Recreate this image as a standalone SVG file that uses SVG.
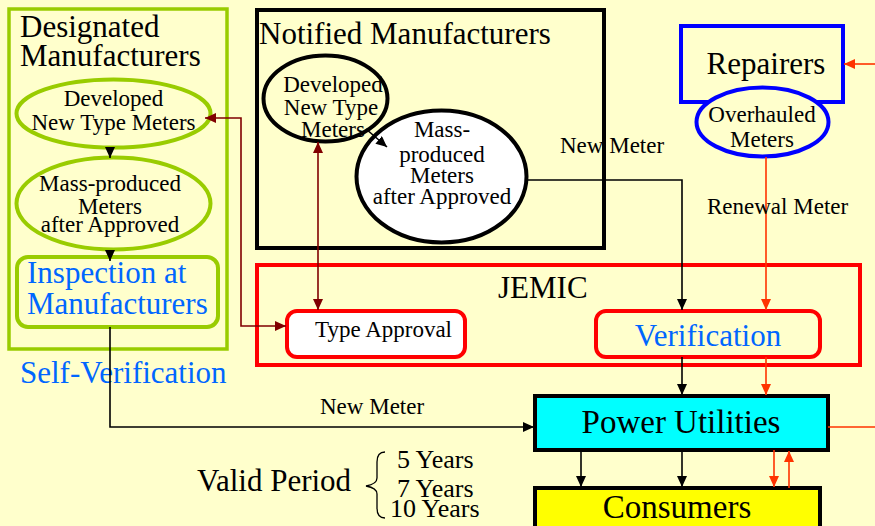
<svg xmlns="http://www.w3.org/2000/svg" width="875" height="526" viewBox="0 0 875 526" font-family="'Liberation Serif', 'Times New Roman', serif">
<style>
text{font-family:"Liberation Serif","Times New Roman",serif;fill:#000}
.t30{font-size:31px}
.t23{font-size:23px}
.t33{font-size:33px}
.t25{font-size:26px}
.blue{fill:#0066FF}
.k{fill:none;stroke:#000;stroke-width:1.6}
.o{fill:none;stroke:#FF3300;stroke-width:1.6}
.dr{fill:none;stroke:#800000;stroke-width:1.6}
</style>
<defs>
<marker id="ak" markerUnits="userSpaceOnUse" markerWidth="12" markerHeight="10" refX="11" refY="5" orient="auto-start-reverse"><path d="M0,0 L11,5 L0,10 z" fill="#000"/></marker>
<marker id="ao" markerUnits="userSpaceOnUse" markerWidth="12" markerHeight="10" refX="11" refY="5" orient="auto-start-reverse"><path d="M0,0 L11,5 L0,10 z" fill="#FF3300"/></marker>
<marker id="ad" markerUnits="userSpaceOnUse" markerWidth="12" markerHeight="10" refX="11" refY="5" orient="auto-start-reverse"><path d="M0,0 L11,5 L0,10 z" fill="#800000"/></marker>
</defs>
<rect x="0" y="0" width="875" height="526" fill="#FFFFCC"/>

<g id="designated">
<rect x="9" y="9" width="218" height="340" fill="none" stroke="#99CC00" stroke-width="3.5"/>
<text class="t30" x="20" y="37">Designated</text>
<text class="t30" x="20" y="66">Manufacturers</text>
</g>
<g id="dm-developed">
<ellipse cx="113.5" cy="113.5" rx="97" ry="34" fill="none" stroke="#99CC00" stroke-width="4"/>
<text class="t23" x="113.5" y="106" text-anchor="middle">Developed</text>
<text class="t23" x="113.5" y="130" text-anchor="middle">New Type Meters</text>
</g>
<g id="dm-mass">
<ellipse cx="113.5" cy="203.5" rx="97" ry="46" fill="none" stroke="#99CC00" stroke-width="4"/>
<text class="t23" x="110" y="191" text-anchor="middle">Mass-produced</text>
<text class="t23" x="110" y="214" text-anchor="middle">Meters</text>
<text class="t23" x="110" y="232" text-anchor="middle">after Approved</text>
</g>
<g id="inspection">
<rect x="17" y="257" width="201" height="70" rx="11" fill="none" stroke="#99CC00" stroke-width="4"/>
<text class="t30 blue" x="27" y="283">Inspection at</text>
<text class="t30 blue" x="27" y="314">Manufacturers</text>
</g>
<g id="self-verification">
<text class="t30 blue" x="20" y="383">Self-Verification</text>
</g>

<g id="notified">
<rect x="257" y="10" width="347" height="238" fill="none" stroke="#000" stroke-width="4"/>
<text class="t30" x="259" y="44">Notified Manufacturers</text>
</g>
<g id="nm-developed">
<ellipse cx="325.5" cy="98.5" rx="62" ry="43" fill="none" stroke="#000" stroke-width="4"/>
<text class="t23" x="333" y="92" text-anchor="middle">Developed</text>
<text class="t23" x="331" y="115" text-anchor="middle">New Type</text>
<text class="t23" x="333" y="137" text-anchor="middle">Meters</text>
</g>
<g id="nm-mass">
<ellipse cx="441.5" cy="176.5" rx="85" ry="66" fill="#FFFFFF" stroke="#000" stroke-width="4"/>
<text class="t23" x="442" y="137" text-anchor="middle">Mass-</text>
<text class="t23" x="442" y="162" text-anchor="middle">produced</text>
<text class="t23" x="442" y="183" text-anchor="middle">Meters</text>
<text class="t23" x="442" y="204" text-anchor="middle">after Approved</text>
</g>

<g id="repairers">
<rect x="681" y="26" width="162" height="76" fill="none" stroke="#0000FF" stroke-width="4"/>
<text class="t30" x="766" y="74" text-anchor="middle">Repairers</text>
</g>
<g id="overhauled">
<ellipse cx="762.5" cy="122" rx="66" ry="34.5" fill="#FFFFCC" stroke="#0000FF" stroke-width="4"/>
<text class="t23" x="762" y="122" text-anchor="middle">Overhauled</text>
<text class="t23" x="762" y="147" text-anchor="middle">Meters</text>
</g>

<g id="jemic">
<rect x="257" y="265" width="603" height="100" fill="none" stroke="#FF0000" stroke-width="4"/>
<text class="t30" x="498" y="298">JEMIC</text>
</g>
<g id="type-approval">
<rect x="287" y="311" width="178" height="46" rx="10" fill="#FFFFFF" stroke="#FF0000" stroke-width="4"/>
<text class="t23" x="315" y="337">Type Approval</text>
</g>
<g id="verification">
<rect x="596" y="311" width="224" height="46" rx="10" fill="none" stroke="#FF0000" stroke-width="4"/>
<text class="t30 blue" x="708" y="346" text-anchor="middle">Verification</text>
</g>

<g id="power-utilities">
<rect x="535" y="396" width="293" height="54" fill="#00FFFF" stroke="#000" stroke-width="4"/>
<text class="t33" x="681" y="433" text-anchor="middle">Power Utilities</text>
</g>
<g id="consumers">
<rect x="535" y="488" width="285" height="44" fill="#FFFF00" stroke="#000" stroke-width="4"/>
<text class="t33" x="677" y="518" text-anchor="middle">Consumers</text>
</g>

<g id="valid-period">
<text class="t30" x="197" y="491">Valid Period</text>
<path d="M385,452 Q377,452 377,462 L377,478 Q377,484 366,486 Q377,488 377,494 L377,508 Q377,518 385,518" fill="none" stroke="#000" stroke-width="1.3"/>
<text class="t25" x="397" y="468">5 Years</text>
<text class="t25" x="397" y="497">7 Years</text>
<text class="t25" x="390" y="517">10 Years</text>
</g>

<g id="connectors">
<path class="k" d="M110,148 V158" marker-end="url(#ak)"/>
<path class="k" d="M110,250 V261" marker-end="url(#ak)"/>
<path class="k" d="M110,327 V427 H534" marker-end="url(#ak)"/>
<path class="k" d="M527,180 H682 V310" marker-end="url(#ak)"/>
<path class="k" d="M366,129 L387,147" marker-end="url(#ak)"/>
<path class="dr" d="M205,118 H241 V326 H286" marker-start="url(#ad)" marker-end="url(#ad)"/>
<path class="dr" d="M318,142 V310" marker-start="url(#ad)" marker-end="url(#ad)"/>
<path class="o" d="M766,157 V310" marker-end="url(#ao)"/>
<path class="o" d="M875,64 H844" marker-end="url(#ao)"/>
<path class="k" d="M682,357 V395" marker-end="url(#ak)"/>
<path class="o" d="M766,357 V395" marker-end="url(#ao)"/>
<path class="o" d="M828,427 H875"/>
<path class="k" d="M581,450 V487" marker-end="url(#ak)"/>
<path class="k" d="M682,450 V487" marker-end="url(#ak)"/>
<path class="o" d="M774,450 V487" marker-end="url(#ao)"/>
<path class="o" d="M789,488 V451" marker-end="url(#ao)"/>
<text class="t23" x="320" y="414">New Meter</text>
<text class="t23" x="560" y="153">New Meter</text>
<text class="t23" x="707" y="214">Renewal Meter</text>
</g>
</svg>
